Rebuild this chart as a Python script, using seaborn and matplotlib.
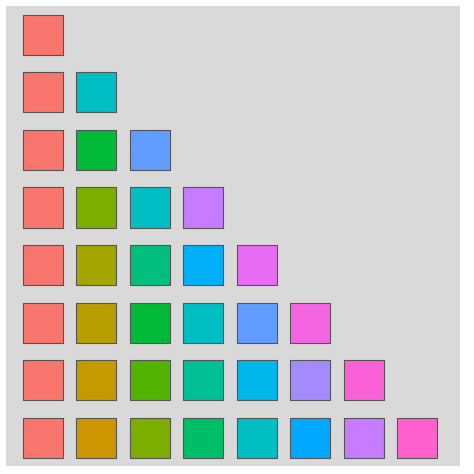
import pandas as pd
import matplotlib.pyplot as plt
import seaborn as sns

# ggplot hue_pal() colours for n = 1..8
palettes = [
    ["#F8766D"],
    ["#F8766D", "#00BFC4"],
    ["#F8766D", "#00BA38", "#619CFF"],
    ["#F8766D", "#7CAE00", "#00BFC4", "#C77CFF"],
    ["#F8766D", "#A3A500", "#00BF7D", "#00B0F6", "#E76BF3"],
    ["#F8766D", "#B79F00", "#00BA38", "#00BFC4", "#619CFF", "#F564E3"],
    ["#F8766D", "#C49A00", "#53B400", "#00C094", "#00B6EB", "#A58AFF", "#FB61D7"],
    ["#F8766D", "#CD9600", "#7CAE00", "#00BE67", "#00BFC4", "#00A9FF", "#C77CFF", "#FF61CC"],
]

rows = []
for n, pal in enumerate(palettes, start=1):
    for i, c in enumerate(pal, start=1):
        rows.append({"x": i, "y": n, "color": c})
df = pd.DataFrame(rows)

fig = plt.figure(figsize=(4.74, 4.74), dpi=100)
ax = fig.add_axes([6/474, 8/474, 454/474, 460/474])
ax.set_facecolor("#D9D9D9")
sns.scatterplot(data=df, x="x", y="y", hue="color", palette=dict(zip(df.color, df.color)),
                marker="s", s=830, edgecolor="#555555", linewidth=0.8, legend=False, ax=ax)
ax.set_xlim(0.31, 8.8)
ax.set_ylim(8.49, 0.5)
ax.set_xticks([])
ax.set_yticks([])
ax.set_xlabel("")
ax.set_ylabel("")
for s in ax.spines.values():
    s.set_visible(False)
plt.savefig("out.png", dpi=100)
